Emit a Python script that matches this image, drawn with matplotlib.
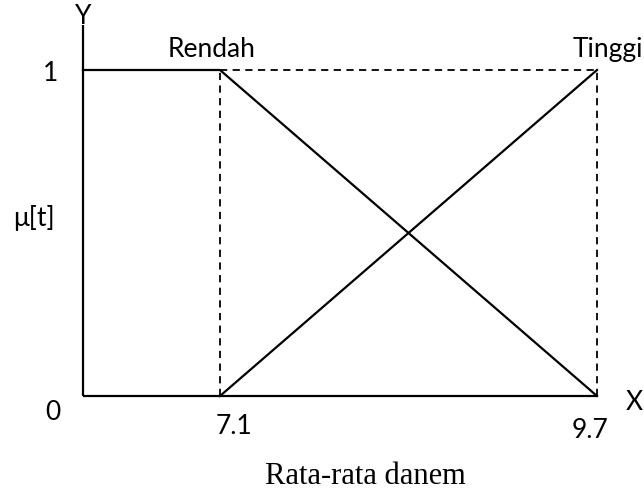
import matplotlib
matplotlib.use('Agg')
import matplotlib.pyplot as plt

# membership function data
x_origin = 6.155          # where the axes meet
x_low, x_high = 7.1, 9.7
y_top = 1.138             # end of the Y axis line

rendah_x = [x_origin, x_low, x_high]
rendah_y = [1, 1, 0]
tinggi_x = [x_low, x_high]
tinggi_y = [0, 1]

tick_labels = ['7.1', '9.7']

W, H = 644, 495
fig = plt.figure(figsize=(W / 100, H / 100), dpi=100)
ax = fig.add_axes([0, 0, 1, 1])
ax.set_xlim(5.583, 10.024)
ax.set_ylim(-0.3037, 1.2147)
ax.axis('off')

lw = 1.6
fnt = 'Lato'
fs = 19

# axes
ax.plot([x_origin, x_origin], [0, y_top], color='black', lw=lw, solid_capstyle='butt')
ax.plot([x_origin, x_high], [0, 0], color='black', lw=lw, solid_capstyle='butt')

# membership lines
ax.plot(rendah_x, rendah_y, color='black', lw=lw)
ax.plot(tinggi_x, tinggi_y, color='black', lw=lw)

# dashed guides
dash = dict(color='black', lw=1.3, ls=(0, (4, 3)))
ax.plot([x_low, x_high], [1, 1], **dash)
ax.plot([x_low, x_low], [0, 1], **dash)
ax.plot([x_high, x_high], [0, 1], **dash)


def px_text(x, y, s, **kw):
    # place text by pixel position of the reference picture
    kw.setdefault('fontsize', fs)
    kw.setdefault('family', fnt)
    fig.text(x / W, 1 - y / H, s, **kw)


px_text(83, 17, 'Y', ha='center', va='center')
px_text(51, 73, '1', ha='center', va='center')
px_text(53, 413, '0', ha='center', va='center')
px_text(34, 218, 'μ[t]', ha='center', va='center')
px_text(634, 402, 'X', ha='center', va='center')
px_text(234, 427, tick_labels[0], ha='center', va='center')
px_text(590, 430, tick_labels[1], ha='center', va='center')
px_text(168, 57, 'Rendah', ha='left', va='baseline')
px_text(573, 57, 'Tinggi', ha='left', va='baseline')
px_text(265, 484, 'Rata-rata danem', ha='left', va='baseline', fontsize=22,
        family='Liberation Serif')

fig.savefig('out.png', dpi=100)
